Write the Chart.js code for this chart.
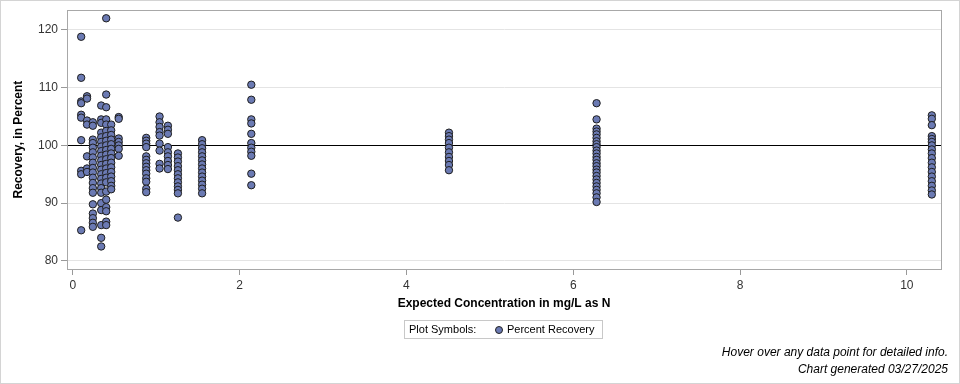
<!DOCTYPE html>
<html>
<head>
<meta charset="utf-8">
<script src="https://cdn.jsdelivr.net/npm/chart.js@4.4.1/dist/chart.umd.min.js"></script>
<style>
  body { margin:0; background:#fff; font-family:"Liberation Sans", Arial, sans-serif; }
  #wrap { position:relative; width:960px; height:384px; }
  #frame { position:absolute; left:0; top:0; width:958px; height:382px; border:1px solid #d4d4d4; pointer-events:none; }
  .legend { position:absolute; left:404px; top:320px; width:197px; height:17px; border:1px solid #c8c8c8;
            font-size:11px; color:#000; }
  .legend span { position:absolute; top:2px; }
  .legend .dot { position:absolute; left:90px; top:5px; width:6px; height:6px; border-radius:50%;
                 background:#6b7ab3; border:1px solid #222; }
  .foot { position:absolute; right:12px; font-size:12px; font-style:italic; color:#000; text-align:right; }
</style>
</head>
<body>
<div id="wrap">
  <canvas id="c" width="960" height="384"></canvas>
  <div class="legend">
    <span style="left:4px">Plot Symbols:</span>
    <div class="dot"></div>
    <span style="left:102px">Percent Recovery</span>
  </div>
  <div class="foot" style="top:345px">Hover over any data point for detailed info.</div>
  <div class="foot" style="top:362px">Chart generated 03/27/2025</div>
  <div id="frame"></div>
</div>
<script>
// ── Data: expected concentration (mg/L as N) and recoveries at each level ──
const concentrations = [0.10, 0.17, 0.24, 0.34, 0.40, 0.46, 0.55, 0.88, 1.04, 1.14, 1.26, 1.55, 2.14, 4.51, 6.28, 10.30];

const recoveries = [
    [118.8, 111.7, 107.6, 107.3, 105.3, 104.8, 100.9, 95.6, 95.0, 85.3],
    [108.5, 108.1, 104.3, 103.6, 98.1, 96.0, 95.4],
    [104.0, 103.4, 101.0, 100.4, 99.6, 98.8, 97.9, 97.0, 96.1, 95.3, 94.4, 93.5, 92.6, 91.8, 89.8, 88.2, 87.4, 86.6, 85.9],
    [106.9, 104.5, 103.9, 102.2, 101.4, 100.6, 99.8, 99.0, 98.2, 97.4, 96.6, 95.8, 95.0, 94.2, 93.4, 92.6, 91.8, 90.0, 88.8, 86.2, 84.0, 82.5],
    [122.0, 108.8, 106.6, 104.5, 103.6, 102.5, 101.6, 100.8, 100.0, 99.2, 98.4, 97.6, 96.8, 96.0, 95.2, 94.4, 93.6, 92.0, 90.6, 89.3, 88.6, 86.8, 86.2],
    [103.6, 102.6, 101.8, 101.0, 100.2, 99.4, 98.6, 97.8, 97.0, 96.2, 95.4, 94.6, 93.8, 93.0, 92.4],
    [104.9, 104.6, 101.2, 100.6, 100.0, 99.4, 98.2],
    [101.3, 100.8, 100.3, 99.7, 98.1, 97.5, 96.9, 96.3, 95.7, 95.1, 94.3, 93.7, 92.5, 91.9],
    [105.0, 104.0, 103.2, 102.3, 101.7, 100.3, 99.1, 96.8, 96.0],
    [103.4, 102.7, 102.0, 99.7, 98.8, 98.1, 97.3, 96.6, 95.9],
    [98.6, 97.9, 97.2, 96.4, 95.7, 95.0, 94.3, 93.6, 92.9, 92.3, 91.7, 87.5],
    [100.9, 100.2, 99.5, 98.8, 98.1, 97.4, 96.7, 96.0, 95.3, 94.6, 93.9, 93.2, 92.5, 91.7],
    [110.5, 107.9, 104.5, 103.8, 102.0, 100.4, 99.6, 98.9, 98.2, 95.1, 93.1],
    [102.2, 101.6, 101.0, 100.4, 99.6, 98.8, 98.0, 97.3, 96.6, 95.7],
    [107.3, 104.5, 102.9, 102.4, 101.9, 101.3, 100.7, 100.2, 99.7, 99.1, 98.6, 98.0, 97.5, 96.9, 96.4,
     95.8, 95.3, 94.7, 94.1, 93.5, 92.9, 92.3, 91.7, 91.0, 90.2],
    [105.2, 104.6, 103.5, 101.6, 101.1, 100.6, 100.0, 99.3, 98.6, 97.8, 97.0, 96.2, 95.4, 94.6, 93.8, 93.0, 92.2, 91.5],
];

const xTicks = [0, 2, 4, 6, 8, 10];
const yTicks = [80, 90, 100, 110, 120];
const targetRecovery = 100;

const points = [];
concentrations.forEach((x, i) => recoveries[i].forEach(y => points.push({ x, y })));

// Frame on all four sides + 100% reference line (under the markers)
const framePlugin = {
    id: 'frame',
    beforeDatasetsDraw(chart) {
        const { ctx, chartArea: a, scales } = chart;
        const yRef = Math.round(scales.y.getPixelForValue(targetRecovery)) + 0.5;
        ctx.save();
        ctx.strokeStyle = '#000';
        ctx.lineWidth = 1;
        ctx.beginPath();
        ctx.moveTo(a.left, yRef);
        ctx.lineTo(a.right, yRef);
        ctx.stroke();
        ctx.strokeStyle = '#a8a8a8';
        ctx.strokeRect(Math.round(a.left) + 0.5, Math.round(a.top) + 0.5,
                       Math.round(a.right - a.left), Math.round(a.bottom - a.top));
        ctx.restore();
    },
};

const tickFont = { family: '"Liberation Sans", Arial, sans-serif', size: 12 };
const titleFont = { family: '"Liberation Sans", Arial, sans-serif', size: 12, weight: 'bold' };

new Chart(document.getElementById('c'), {
    type: 'scatter',
    data: {
        datasets: [{
            label: 'Percent Recovery',
            data: points,
            pointRadius: 3.7,
            pointHoverRadius: 4.7,
            pointBackgroundColor: '#6b7ab3',
            pointBorderColor: '#1e1e1e',
            pointBorderWidth: 1,
        }],
    },
    options: {
        responsive: false,
        animation: false,
        layout: { padding: { top: 9, right: 19, bottom: 70, left: 0 } },
        plugins: {
            legend:  { display: false },
            tooltip: { enabled: true },
        },
        scales: {
            x: {
                type: 'linear',
                min: -0.07,
                max: 10.41,
                afterBuildTicks: s => { s.ticks = xTicks.map(v => ({ value: v })); },
                afterFit: s => { s.height = 45; },
                ticks: { color: '#333', font: tickFont, padding: 3 },
                grid:  { drawOnChartArea: false, tickLength: 6, tickColor: '#999' },
                border: { color: '#a8a8a8' },
                title: { display: true, text: 'Expected Concentration in mg/L as N',
                         color: '#000', font: titleFont, padding: { top: 0, bottom: 3 } },
            },
            y: {
                min: 78.6,
                max: 123.4,
                afterBuildTicks: s => { s.ticks = yTicks.map(v => ({ value: v })); },
                afterFit: s => { s.width = 67; },
                ticks: { color: '#333', font: tickFont, padding: 3 },
                grid:  { color: '#e4e4e4', tickLength: 6, tickColor: '#999' },
                border: { color: '#a8a8a8' },
                title: { display: true, text: 'Recovery, in Percent',
                         color: '#000', font: titleFont, padding: { top: 11, bottom: 0 } },
            },
        },
    },
    plugins: [framePlugin],
});
</script>
</body>
</html>
